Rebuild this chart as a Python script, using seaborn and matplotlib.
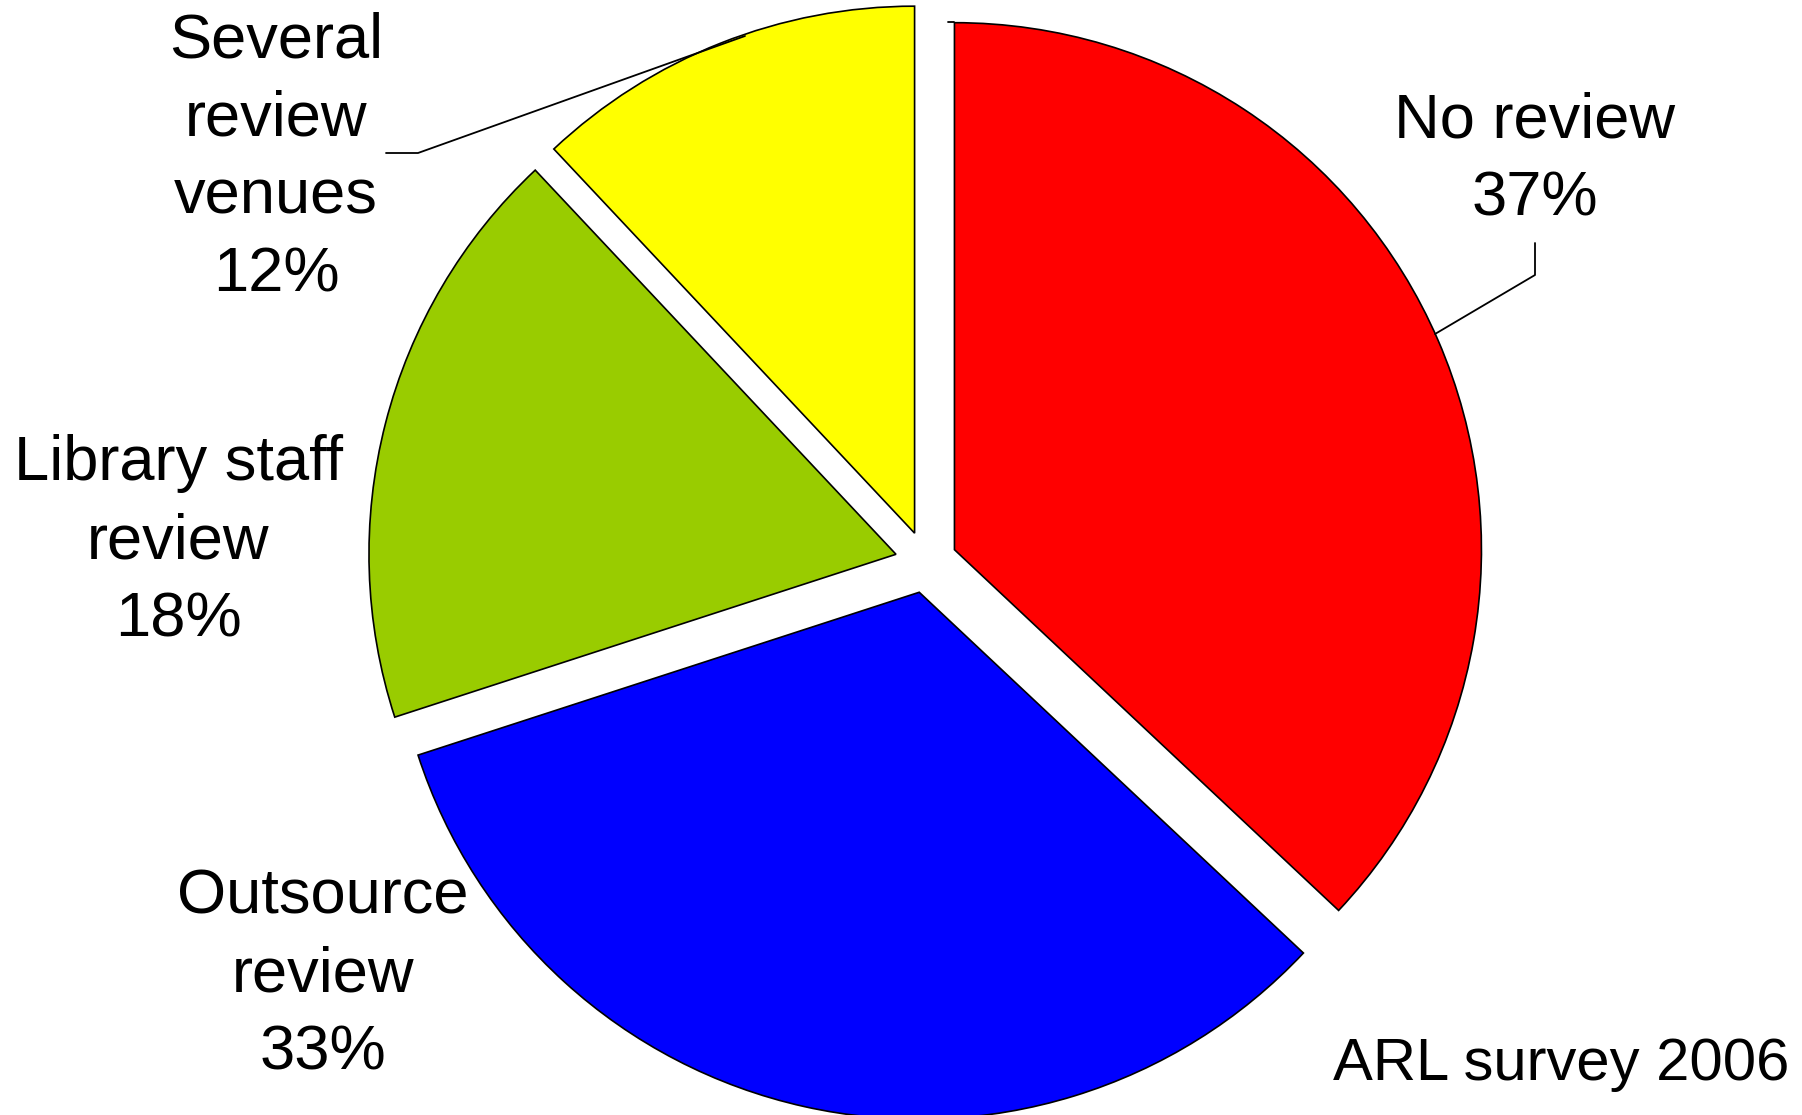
import matplotlib
matplotlib.use("Agg")
import matplotlib.pyplot as plt
import seaborn as sns

categories = ["No review", "Outsource\nreview", "Library staff\nreview", "Several\nreview\nvenues"]
shares = [37, 33, 18, 12]
colors = ["#FF0000", "#0000FF", "#99CC00", "#FFFF00"]
note = "ARL survey 2006"

sns.set_theme(style="white")
plt.rcParams["font.family"] = ["Liberation Sans", "DejaVu Sans"]

W, H = 1802, 1115
fig = plt.figure(figsize=(W / 100, H / 100), dpi=100)
ax = fig.add_axes([0, 0, 1, 1])

cx, cy, R, ex = 926, 1115 - 562, 527, 31
ax.pie(shares, colors=colors, startangle=90, counterclock=False,
       center=(cx, cy), radius=R, explode=[ex] * len(shares),
       wedgeprops=dict(edgecolor="black", linewidth=1.2))
ax.set_xlim(0, W)
ax.set_ylim(0, H)
ax.set_aspect("equal")
ax.axis("off")

fs = 45.5
ls = 1.42
label_pos = [(1535, 160), (323, 975), (178, 542), (276, 158)]
for cat, val, (x, y) in zip(categories, shares, label_pos):
    ax.text(x, H - y, f"{cat}\n{val}%", ha="center", va="center",
            fontsize=fs, linespacing=ls, color="black")

# leader lines
ax.plot([1535, 1535, 1435], [H - 243, H - 275, H - 334], color="black", lw=1.3)
ax.plot([386, 418, 745], [H - 153, H - 153, H - 36], color="black", lw=1.3)
ax.plot([948, 954], [H - 22, H - 22], color="black", lw=1.3)

ax.text(1333, H - 1080, note, ha="left", va="baseline", fontsize=43, color="black")

fig.savefig("out.png", dpi=100, facecolor="white")
